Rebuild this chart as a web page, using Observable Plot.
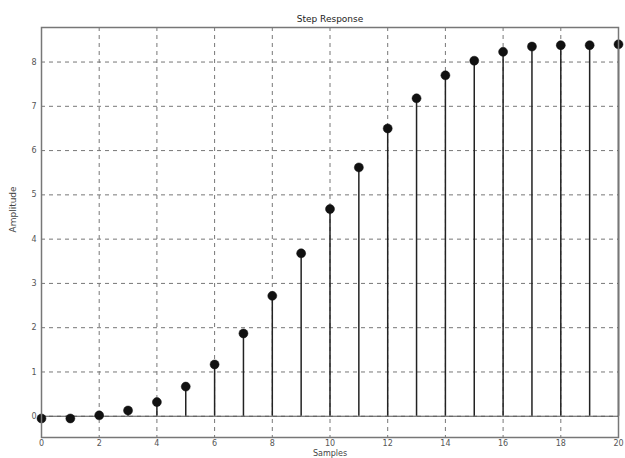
<!DOCTYPE html>
<html>
<head>
<meta charset="utf-8">
<script src="https://cdn.jsdelivr.net/npm/d3@7"></script>
<script src="https://cdn.jsdelivr.net/npm/@observablehq/plot@0.6"></script>
<style>
  html, body { margin: 0; padding: 0; background: #fff; }
  svg { display: block; }
</style>
</head>
<body>
<div id="chart"></div>
<script>
const samples = [0,1,2,3,4,5,6,7,8,9,10,11,12,13,14,15,16,17,18,19,20];
const amplitude = [-0.05,-0.05,0.02,0.13,0.32,0.67,1.17,1.87,2.72,3.68,4.68,5.62,6.5,7.18,7.7,8.03,8.23,8.35,8.38,8.38,8.4];
const xTicks = [0,2,4,6,8,10,12,14,16,18,20];
const yTicks = [0,1,2,3,4,5,6,7,8];
const title = "Step Response";
const xLabel = "Samples";
const yLabel = "Amplitude";

const data = samples.map((s, i) => ({s, a: amplitude[i]}));

const chart = Plot.plot({
  width: 625,
  height: 458,
  marginLeft: 41,
  marginRight: 7,
  marginTop: 27,
  marginBottom: 21,
  style: {fontFamily: "DejaVu Sans, sans-serif", fontSize: "8px", background: "#fff", color: "#444"},
  x: {domain: [0, 20], ticks: xTicks, label: null, tickSize: 0, tickPadding: 3},
  y: {domain: [-0.48, 8.78], ticks: yTicks, label: null, tickSize: 0, tickPadding: 5},
  marks: [
    Plot.gridX(xTicks, {stroke: "#777", strokeOpacity: 1, strokeDasharray: "4,4", strokeWidth: 1}),
    Plot.gridY(yTicks, {stroke: "#777", strokeOpacity: 1, strokeDasharray: "4,4", strokeWidth: 1}),
    Plot.axisX(xTicks, {tickSize: 0, tickPadding: 3, fill: "#555"}),
    Plot.axisY(yTicks, {tickSize: 0, tickPadding: 5, fill: "#555"}),
    Plot.ruleY([0], {stroke: "#555", strokeWidth: 1.2}),
    Plot.ruleX(data, {x: "s", y1: 0, y2: "a", stroke: "#222", strokeWidth: 1.5}),
    Plot.dot(data, {x: "s", y: "a", r: 4.5, fill: "#111", stroke: "#111", strokeWidth: 0.5}),
    Plot.frame({stroke: "#777", strokeWidth: 1.5}),
    Plot.text([title], {frameAnchor: "top", dy: -12, fontSize: 9, fill: "#222"}),
    Plot.text([xLabel], {frameAnchor: "bottom", dy: 18, fontSize: 8, fill: "#444"}),
    Plot.text([yLabel], {frameAnchor: "left", dx: -28, rotate: -90, fontSize: 9, fill: "#444"})
  ]
});
document.getElementById("chart").appendChild(chart);
</script>
</body>
</html>
